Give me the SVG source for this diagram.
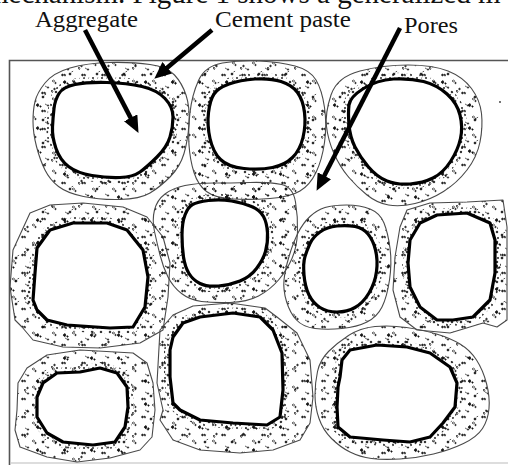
<svg xmlns="http://www.w3.org/2000/svg" width="508" height="465" viewBox="0 0 508 465">
<style>
  .outer{fill:none;stroke:#4a4a4a;stroke-width:1.1;stroke-linejoin:round}
  .tex1{fill:url(#paste1);stroke:none}
  .tex2{fill:url(#paste2);stroke:none}
  .band{fill:none;stroke:url(#paste3);stroke-width:12;stroke-linejoin:round}
  .agg{fill:#fff;stroke:#000;stroke-width:3.2;stroke-linejoin:round}
  .lbl{font-family:"Liberation Serif","Times New Roman",serif;font-size:23px;fill:#111}
  .top{font-family:"Liberation Serif","Times New Roman",serif;font-size:29px;fill:#111}
  .arr{stroke:#000;stroke-width:4.5;fill:none}
</style>
<defs>
  <pattern id="paste1" width="20" height="18" patternUnits="userSpaceOnUse">
    <g fill="#1a1a1a" stroke="#1a1a1a" stroke-width="0.7">
      <circle cx="2.5" cy="3" r="0.9"/>
      <path d="M4,2 l1.6,0.8 l-0.6,1.4 z"/>
      <path d="M12,9 q1.5,-1.8 2.8,0 q-1,1.8 -2.8,0" fill="none"/>
      <circle cx="15.5" cy="11" r="0.7"/>
      <path d="M5,14 l1.8,0.9" fill="none"/>
      <circle cx="8" cy="15.5" r="0.7"/>
    </g>
  </pattern>
  <pattern id="paste2" width="27" height="23" patternUnits="userSpaceOnUse" x="6" y="9">
    <g fill="#111" stroke="#111" stroke-width="0.7">
      <path d="M3,4 l2,-1.5 l1,2 l-1.5,1.2 z"/>
      <circle cx="7.5" cy="5.5" r="0.7"/>
      <path d="M19,12 q1.5,1 0.5,2.5 q-1.5,0 -1,-2.5" fill="none"/>
      <circle cx="21.5" cy="11" r="0.8"/>
      <circle cx="10" cy="19" r="1"/>
      <path d="M11.5,17 l1.6,-0.8" fill="none"/>
    </g>
  </pattern>
  <pattern id="paste3" width="9" height="10" patternUnits="userSpaceOnUse">
    <g fill="#111" stroke="#111" stroke-width="0.6">
      <circle cx="2" cy="2" r="0.9"/>
      <path d="M5.5,4 l1.5,1 l-1.3,0.8 z"/>
      <circle cx="3" cy="8" r="0.7"/>
      <path d="M7,8.5 l1.2,-0.9" fill="none"/>
    </g>
  </pattern>
  <marker id="head" markerUnits="userSpaceOnUse" markerWidth="17" markerHeight="15" refX="4" refY="7.5" orient="auto">
    <path d="M0,0 L17,7.5 L0,15 z" fill="#000"/>
  </marker>

  <!-- paste outlines -->
  <path id="o1" d="M45,83 Q53,73 70,68 Q87,63 110,62.5 Q133,62 150,64.5 Q167,67 174.5,75 Q182,83 186,95 Q190,107 189,123.5 Q188,140 184,153.5 Q180,167 170,177 Q160,187 150,193 Q140,199 120,199.5 Q100,200 83.5,196.5 Q67,193 58.5,186.5 Q50,180 45,170 Q40,160 36.5,146.5 Q33,133 33,121.5 Q33,110 35,101.5 Q37,93 45,83 Z"/>
  <path id="o2" d="M222.5,63 Q240,60 260,61 Q280,62 295,66 Q310,70 316,80 Q322,90 324.5,107.5 Q327,125 324.5,142.5 Q322,160 316,172.5 Q310,185 300,191 Q290,197 270,198.5 Q250,200 232.5,199 Q215,198 206.5,191.5 Q198,185 194,172.5 Q190,160 189,145 Q188,130 190,112.5 Q192,95 198.5,80.5 Q205,66 222.5,63 Z"/>
  <path id="o3" d="M331,95 Q337,77 360,71 Q383,65 408,65 Q433,65 448,71 Q463,77 471.5,88.5 Q480,100 481.5,113.5 Q483,127 480,142 Q477,157 467,170 Q457,183 443.5,191.5 Q430,200 415,203.5 Q400,207 388.5,205 Q377,203 367,195 Q357,187 348.5,177 Q340,167 334,153.5 Q328,140 326.5,126.5 Q325,113 331,95 Z"/>
  <path id="o4" d="M30,213 L50,205 L83,203 L123,207 L147,217 L163,237 L170,263 L168,297 L163,330 L140,343 L100,348 L63,347 L33,340 L22,327 L15,320 L10,287 L13,250 Z"/>
  <path id="o5" d="M165,194 Q173,188 185,185.5 Q197,183 213.5,183 Q230,183 250,182.5 Q270,182 281.5,184.5 Q293,187 295.5,202 Q298,217 297.5,232 Q297,247 292,258.5 Q287,270 278.5,280 Q270,290 258.5,296 Q247,302 230,302.5 Q213,303 201.5,301.5 Q190,300 181.5,293.5 Q173,287 168,277 Q163,267 160,255 Q157,243 154.5,231.5 Q152,220 154.5,210 Q157,200 165,194 Z"/>
  <path id="o6" d="M310,216.5 Q317,210 325,207.5 Q333,205 346.5,205 Q360,205 370,209 Q380,213 384,223 Q388,233 390,248 Q392,263 389.5,280 Q387,297 382,307 Q377,317 367,322 Q357,327 342,328.5 Q327,330 315,328.5 Q303,327 296.5,320 Q290,313 286.5,301.5 Q283,290 284,280 Q285,270 289,256.5 Q293,243 298,233 Q303,223 310,216.5 Z"/>
  <path id="o7" d="M407,210 L430,203 L467,202 L503,200 L507,227 L507,320 L497,327 L483,323 L450,333 L417,330 L400,317 L393,290 L395,257 L400,227 Z"/>
  <path id="o8" d="M27,368 L47,355 L80,350 L133,353 L147,363 L153,383 L155,410 L152,437 L140,450 L110,458 L77,462 L47,457 L20,447 L15,430 L17,410 L18,383 Z"/>
  <path id="o9" d="M160,330 L173,315 L193,306 L230,303 L265,308 L277,317 L297,333 L310,360 L313,397 L310,423 L300,440 L273,450 L240,453 L200,450 L173,440 L160,420 L163,410 L157,383 Z"/>
  <path id="o10" d="M328.5,351.5 Q337,343 348.5,335.5 Q360,328 375,326.5 Q390,325 406.5,327.5 Q423,330 436.5,334 Q450,338 460,344 Q470,350 476.5,360 Q483,370 486.5,383.5 Q490,397 489,408.5 Q488,420 482.5,428.5 Q477,437 463.5,443.5 Q450,450 433.5,454 Q417,458 400,459 Q383,460 371.5,458.5 Q360,457 350,452 Q340,447 331.5,438.5 Q323,430 319,418.5 Q315,407 315,395 Q315,383 317.5,371.5 Q320,360 328.5,351.5 Z"/>

  <!-- aggregate outlines -->
  <path id="i1" d="M59,93.5 Q63,87 75,84.5 Q87,82 107,82.5 Q127,83 142,86.5 Q157,90 165,98.5 Q173,107 173,117 Q173,127 170,137 Q167,147 157,157 Q147,167 140,172 Q133,177 120,177.5 Q107,178 92,175.5 Q77,173 68.5,166.5 Q60,160 56,148.5 Q52,137 52.5,127 Q53,117 54,108.5 Q55,100 59,93.5 Z"/>
  <path id="i2" d="M214,94 Q218,88 229,84 Q240,80 255,79 Q270,78 281,81.5 Q292,85 297.5,92.5 Q303,100 304.5,112.5 Q306,125 303,137.5 Q300,150 292.5,157.5 Q285,165 272.5,167.5 Q260,170 244,168.5 Q228,167 220.5,159.5 Q213,152 210,138.5 Q207,125 208.5,112.5 Q210,100 214,94 Z"/>
  <path id="i3" d="M349,105 Q350,97 363.5,88.5 Q377,80 393.5,79 Q410,78 423.5,81.5 Q437,85 447,94 Q457,103 460,115 Q463,127 460.5,138.5 Q458,150 450.5,161.5 Q443,173 433,178 Q423,183 410,184 Q397,185 387,181 Q377,177 368.5,167 Q360,157 355,147 Q350,137 349,125 Q348,113 349,105 Z"/>
  <path id="i4" d="M37,248 L50,230 L73,223 L107,223 L127,230 L143,250 L148,277 L145,307 L133,327 L110,328 L67,325 L47,320 L37,310 L33,300 L35,273 Z"/>
  <path id="i5" d="M192.5,204.5 Q197,202 208.5,200.5 Q220,199 231.5,201 Q243,203 251.5,206.5 Q260,210 263.5,216.5 Q267,223 267.5,233 Q268,243 265.5,251.5 Q263,260 256.5,268.5 Q250,277 240,281 Q230,285 218.5,286 Q207,287 200,283.5 Q193,280 189,273.5 Q185,267 183.5,257 Q182,247 182,235 Q182,223 185,215 Q188,207 192.5,204.5 Z"/>
  <path id="i6" d="M320,232 Q327,227 337,226 Q347,225 355,226.5 Q363,228 368,234 Q373,240 375.5,250 Q378,260 376.5,271.5 Q375,283 369,293 Q363,303 355,307.5 Q347,312 337,312 Q327,312 320,307.5 Q313,303 309,295 Q305,287 304,275 Q303,263 305,256.5 Q307,250 310,243.5 Q313,237 320,232 Z"/>
  <path id="i7" d="M410,240 L420,223 L437,215 L467,213 L490,223 L495,240 L495,273 L490,300 L473,317 L453,320 L437,320 L420,307 L410,287 L408,263 Z"/>
  <path id="i8" d="M37,397 L43,383 L57,373 L80,372 L100,368 L117,373 L127,387 L128,407 L125,427 L115,442 L93,445 L63,442 L47,433 L37,417 Z"/>
  <path id="i9" d="M170,350 L173,337 L183,323 L200,317 L233,313 L260,317 L273,330 L282,353 L283,390 L280,417 L267,425 L233,423 L200,420 L180,410 L173,403 L170,377 Z"/>
  <path id="i10" d="M340,377 L342,360 L350,350 L377,345 L407,347 L430,353 L450,367 L457,383 L455,407 L443,423 L430,437 L410,442 L383,440 L350,437 L338,427 L337,407 L338,387 Z"/>
</defs>

<rect width="508" height="465" fill="#fff"/>

<!-- cut-off caption line at top -->
<text class="top" x="-14" y="3">mechanism. Figure 1 shows a generalized m</text>

<!-- frame -->
<g id="frame" fill="none">
  <path d="M9.5,465 L9.5,60.5 L508,60.5" stroke="#555" stroke-width="1.6"/>
  <path d="M11,463 L508,463" stroke="#bbb" stroke-width="1"/>
  <circle cx="500" cy="102" r="0.9" fill="#333" stroke="none"/>
</g>

<g id="particle1"><use href="#o1" class="tex1"/><use href="#o1" class="tex2"/><use href="#o1" class="outer"/><use href="#i1" class="band"/><use href="#i1" class="agg"/></g>
<g id="particle2"><use href="#o2" class="tex1"/><use href="#o2" class="tex2"/><use href="#o2" class="outer"/><use href="#i2" class="band"/><use href="#i2" class="agg"/></g>
<g id="particle3"><use href="#o3" class="tex1"/><use href="#o3" class="tex2"/><use href="#o3" class="outer"/><use href="#i3" class="band"/><use href="#i3" class="agg"/></g>
<g id="particle4"><use href="#o4" class="tex1"/><use href="#o4" class="tex2"/><use href="#o4" class="outer"/><use href="#i4" class="band"/><use href="#i4" class="agg"/></g>
<g id="particle5"><use href="#o5" class="tex1"/><use href="#o5" class="tex2"/><use href="#o5" class="outer"/><use href="#i5" class="band"/><use href="#i5" class="agg"/></g>
<g id="particle6"><use href="#o6" class="tex1"/><use href="#o6" class="tex2"/><use href="#o6" class="outer"/><use href="#i6" class="band"/><use href="#i6" class="agg"/></g>
<g id="particle7"><use href="#o7" class="tex1"/><use href="#o7" class="tex2"/><use href="#o7" class="outer"/><use href="#i7" class="band"/><use href="#i7" class="agg"/></g>
<g id="particle8"><use href="#o8" class="tex1"/><use href="#o8" class="tex2"/><use href="#o8" class="outer"/><use href="#i8" class="band"/><use href="#i8" class="agg"/></g>
<g id="particle9"><use href="#o9" class="tex1"/><use href="#o9" class="tex2"/><use href="#o9" class="outer"/><use href="#i9" class="band"/><use href="#i9" class="agg"/></g>
<g id="particle10"><use href="#o10" class="tex1"/><use href="#o10" class="tex2"/><use href="#o10" class="outer"/><use href="#i10" class="band"/><use href="#i10" class="agg"/></g>

<g id="labels">
  <text class="lbl" x="35" y="27" textLength="103" lengthAdjust="spacingAndGlyphs">Aggregate</text>
  <text class="lbl" x="215" y="27" textLength="136" lengthAdjust="spacingAndGlyphs">Cement paste</text>
  <text class="lbl" x="404" y="33" textLength="54" lengthAdjust="spacingAndGlyphs">Pores</text>
</g>

<g id="connectors">
  <line class="arr" x1="85" y1="30" x2="132.5" y2="121.4" marker-end="url(#head)"/>
  <line class="arr" x1="212" y1="30" x2="164.2" y2="70.3" marker-end="url(#head)"/>
  <line class="arr" x1="400" y1="28" x2="322.5" y2="179.3" marker-end="url(#head)"/>
</g>
</svg>
